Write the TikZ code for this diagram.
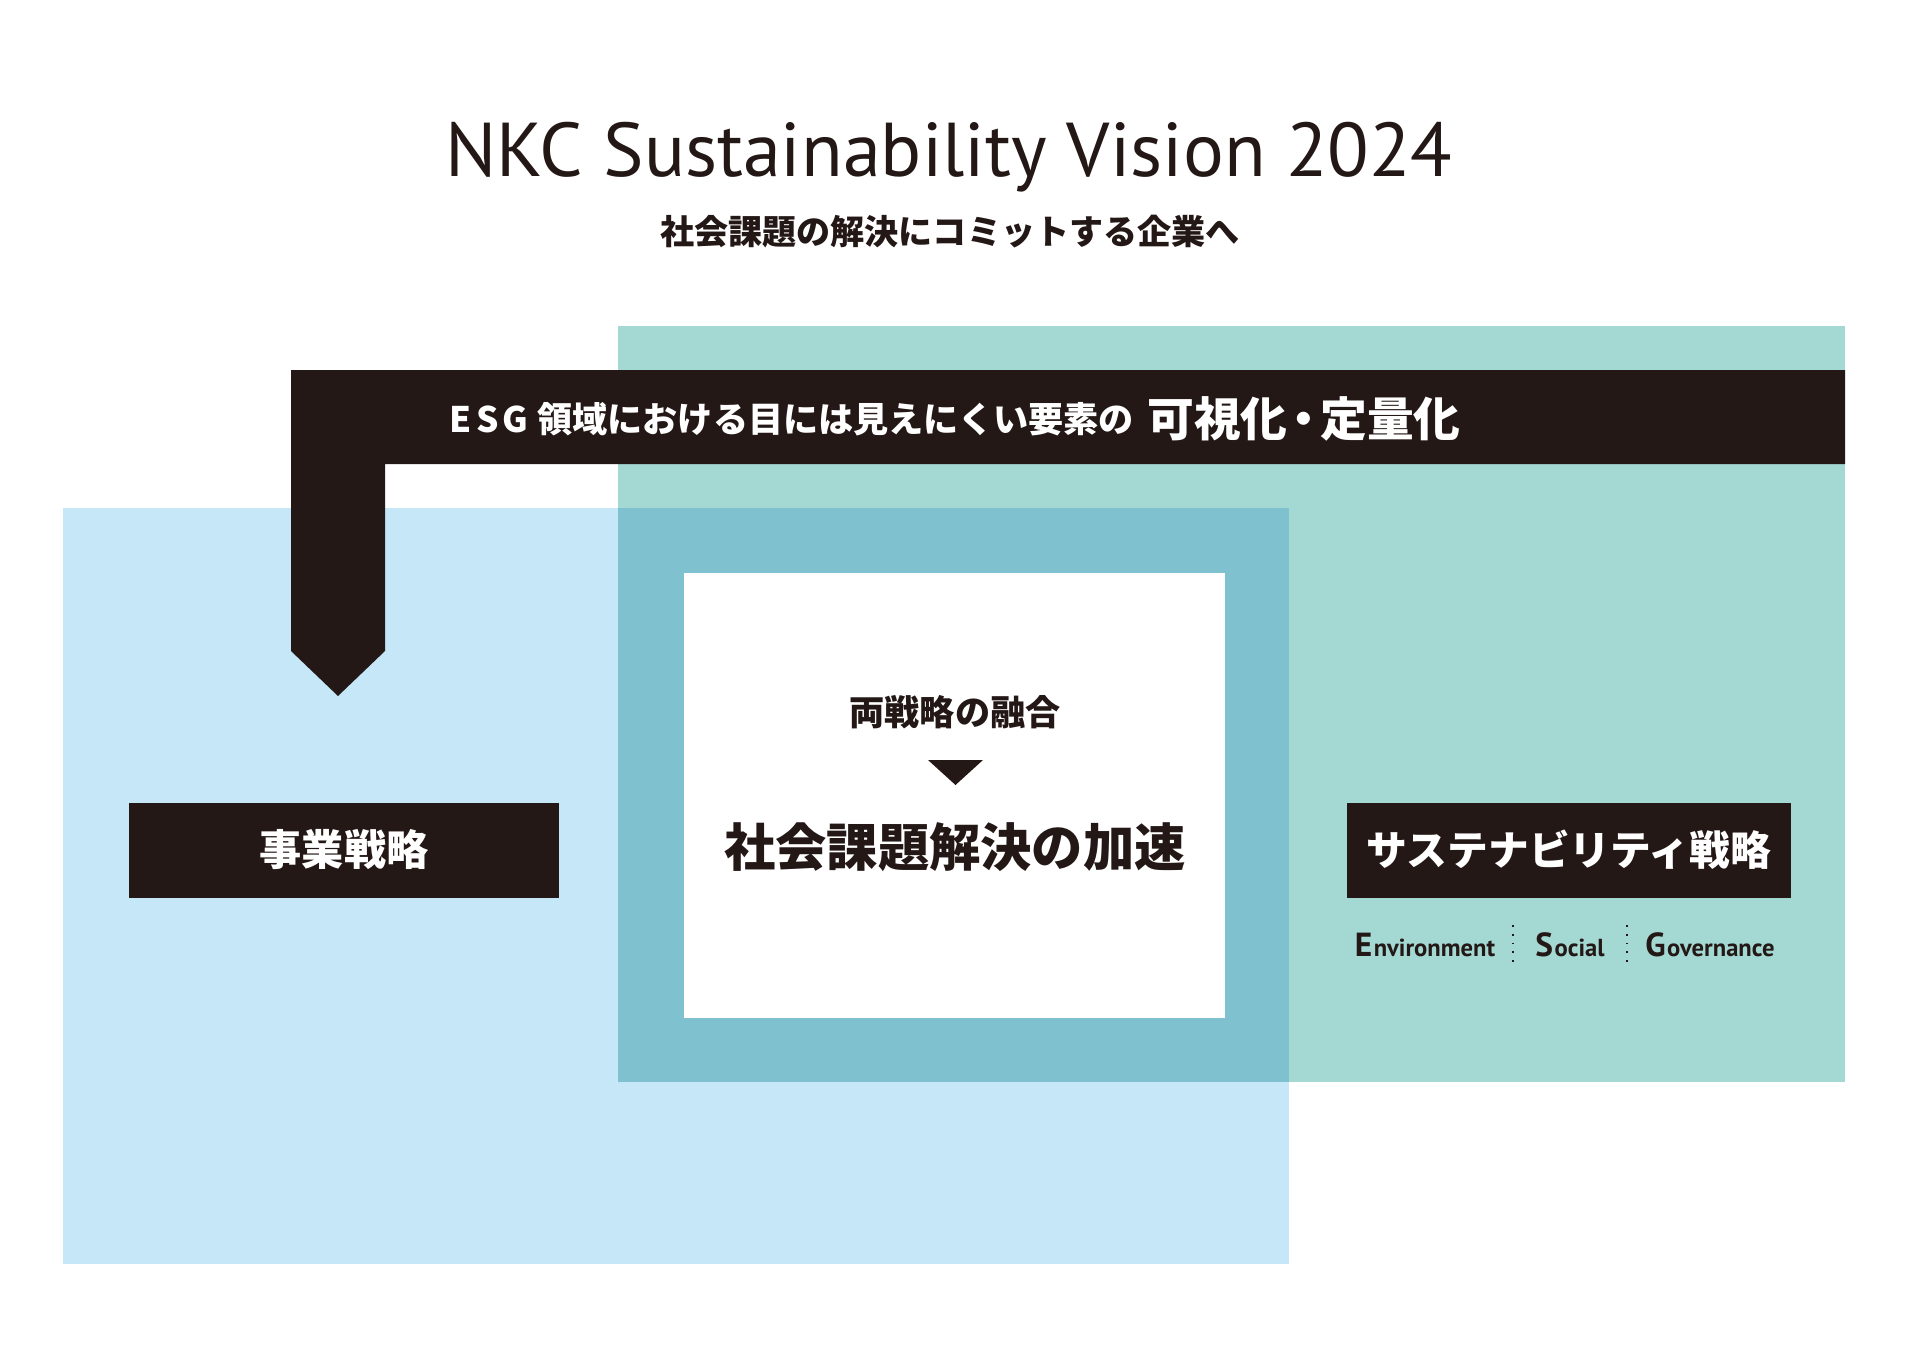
\documentclass[tikz,border=0pt]{standalone}
\usepackage{fontspec}
\setmainfont{PT Sans}
\newfontfamily\jpfont{Noto Sans CJK JP}
\newfontfamily\jpspaced[LetterSpace=12]{Noto Sans CJK JP}
\usetikzlibrary{positioning}
\definecolor{nkcteal}{RGB}{163,216,211}
\definecolor{nkcblue}{RGB}{198,231,248}
\definecolor{nkcmix}{RGB}{127,193,207}
\definecolor{nkcblack}{RGB}{35,24,21}
\tikzset{
	stratbox/.style={fill=nkcblack, text=white, inner sep=0pt, minimum height=9.5mm, font=\jpfont\bfseries\fontsize{#1}{14}\selectfont},
	jptext/.style={inner sep=0pt, text=nkcblack, font=\jpfont\bfseries\fontsize{#1}{#1}\selectfont},
	esgword/.style={inner sep=0pt, anchor=base, text=nkcblack, font=\bfseries\fontsize{7}{8}\selectfont},
	sepline/.style={draw=nkcblack, dotted, line width=0.5pt},
}

\begin{document}
\begin{tikzpicture}[x=0.1mm, y=-0.1mm]
		\useasboundingbox[fill=white] (0,0) rectangle (1909,1350);

		% Title
		\node[inner sep=0pt, anchor=base, text=nkcblack, font=\fontsize{21.7}{24}\selectfont] (title) at (949,177) {NKC Sustainability Vision 2024};
		\node[jptext=9.7] (subtitle) at (950,232) {社会課題の解決にコミットする企業へ};

		% Overlapping areas
		\fill[nkcteal] (618,326) rectangle (1845,1082);
		\fill[nkcblue] (63,508) rectangle (1289,1264);
		\fill[nkcmix] (618,508) rectangle (1289,1082);
		\fill[white] (684,573) rectangle (1225,1018);

		% Band with arrow
		\fill[nkcblack] (291,370) -- (1845,370) -- (1845,464) -- (385,464) -- (385,651) -- (338,696) -- (291,651) -- cycle;
		\node[inner sep=0pt, anchor=west, text=white, font=\jpspaced\bfseries\fontsize{10}{12}\selectfont] (esg) at (449,419) {ESG\addfontfeature{LetterSpace=0}\kern0.25em 領域における目には見えにくい要素の};
		\node[inner sep=0pt, text=white, font=\jpfont\bfseries\fontsize{13.3}{15}\selectfont, right=1.2mm of esg] (visual) {可視化\kern-0.15em・\kern-0.15em定量化};

		% Strategies
		\node[stratbox=12, minimum width=43mm] (biz) at (344,850) {事業戦略};
		\node[stratbox=11.6, minimum width=44.4mm] (sus) at (1569,850) {サステナビリティ戦略};

		\node[esgword] (env) at (1425,956) {{\fontsize{9.5}{10}\selectfont E}\kern0.06em nvironment};
		\node[esgword] (soc) at (1570,956) {{\fontsize{9.5}{10}\selectfont S}\kern0.06em ocial};
		\node[esgword] (gov) at (1710,956) {{\fontsize{9.5}{10}\selectfont G}\kern0.06em overnance};
		\draw[sepline] (1513,925) -- (1513,963);
		\draw[sepline] (1627,925) -- (1627,963);

		% Fusion
		\node[jptext=10] (fusion) at (955,712) {両戦略の融合};
		\fill[nkcblack] (928,760) -- (983,760) -- (955.5,785) -- cycle;
		\node[jptext=14.6] (goal) at (955,847) {社会課題解決の加速};
	\end{tikzpicture}
\end{document}
